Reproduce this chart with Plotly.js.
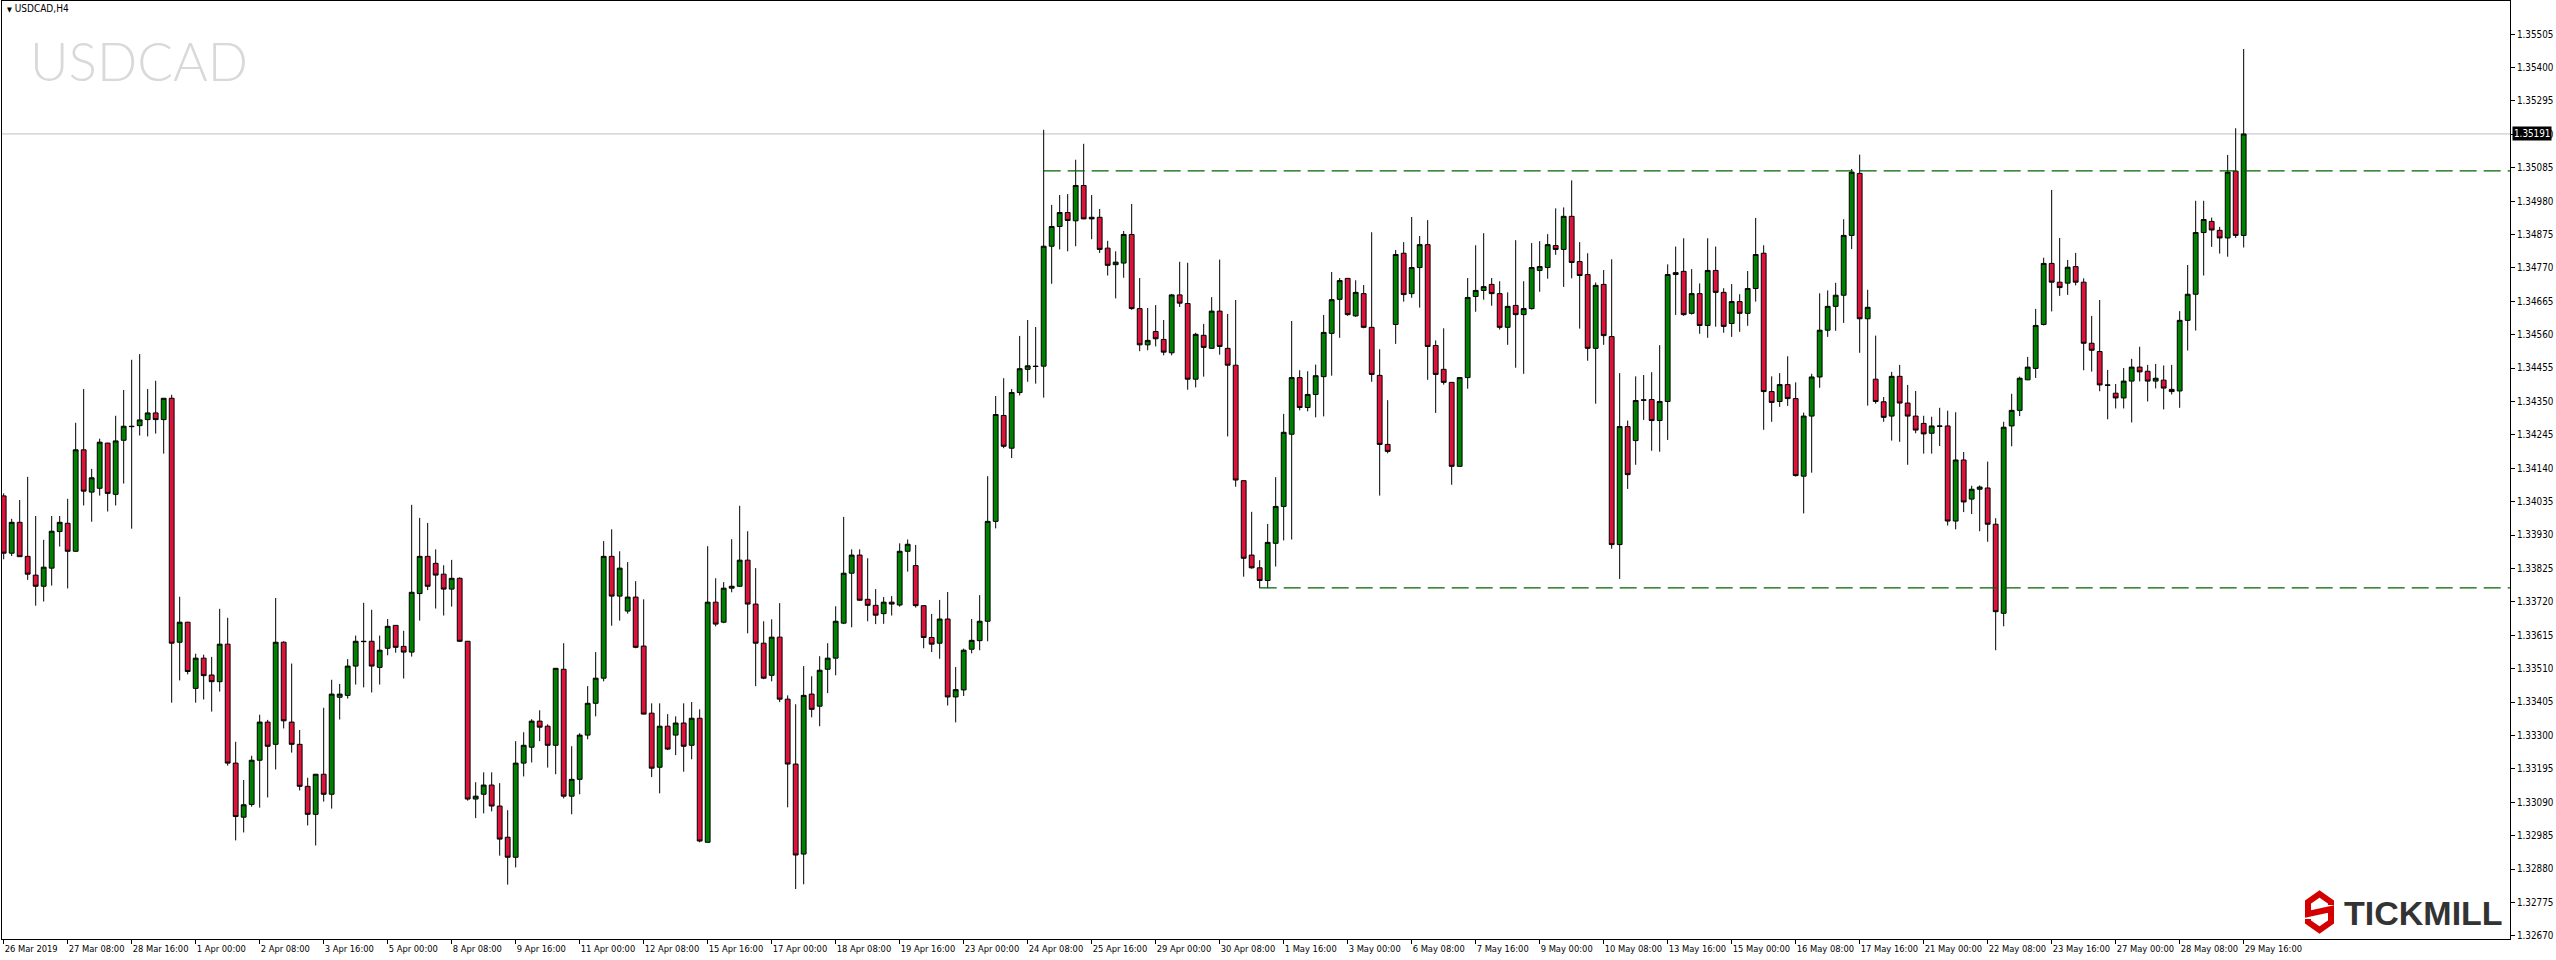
<!DOCTYPE html>
<html>
<head>
<meta charset="utf-8">
<script src="https://cdn.plot.ly/plotly-3.0.1.min.js"></script>
<style>
  html, body { margin: 0; padding: 0; background: #ffffff; }
  #chart { width: 2556px; height: 960px; }
</style>
</head>
<body>
<div id="chart"></div>
<script>
// ---- DATA (USDCAD H4, 26 Mar 2019 00:00 -> 29 May 2019 16:00) ----
const symbolName = "USDCAD";
const timeframeLabel = "USDCAD,H4";

const openPrices = [
1.34053,1.33873,1.33970,1.33863,1.33804,1.33769,1.33826,1.33941,1.33967,1.33879,
1.34198,1.34065,1.34077,1.34219,1.34058,1.34228,1.34272,1.34274,1.34293,1.34314,
1.34293,1.34360,1.33593,1.33656,1.33448,1.33543,1.33490,1.33469,1.33587,1.33213,
1.33043,1.33083,1.33222,1.33342,1.33272,1.33593,1.33342,1.33272,1.33140,1.33052,
1.33178,1.33115,1.33420,1.33426,1.33518,1.33596,1.33596,1.33514,1.33574,1.33646,
1.33580,1.33562,1.33746,1.33863,1.33841,1.33807,1.33760,1.33794,1.33596,1.33100,
1.33115,1.33144,1.33078,1.32980,1.32917,1.33213,1.33263,1.33345,1.33329,1.33269,
1.33508,1.33109,1.33162,1.33301,1.33401,1.33480,1.33863,1.33738,1.33691,1.33735,
1.33581,1.33370,1.33200,1.33329,1.33301,1.33339,1.33269,1.33354,1.32964,1.33719,
1.33656,1.33763,1.33769,1.33851,1.33713,1.33590,1.33489,1.33609,1.33414,1.33210,
1.32927,1.33430,1.33392,1.33508,1.33543,1.33653,1.33810,1.33867,1.33728,1.33709,
1.33683,1.33719,1.33710,1.33879,1.33834,1.33708,1.33608,1.33590,1.33666,1.33421,
1.33443,1.33571,1.33598,1.33659,1.33973,1.34306,1.34203,1.34378,1.34451,1.34461,
1.34461,1.34838,1.34900,1.34944,1.34918,1.35029,1.34929,1.34929,1.34832,1.34780,
1.34785,1.34875,1.34642,1.34528,1.34570,1.34545,1.34503,1.34685,1.34658,1.34420,
1.34558,1.34517,1.34634,1.34517,1.34464,1.34101,1.33867,1.33827,1.33787,1.33904,
1.34020,1.34247,1.34425,1.34331,1.34372,1.34428,1.34564,1.34671,1.34737,1.34619,
1.34689,1.34583,1.34432,1.34215,1.34592,1.34816,1.34689,1.34771,1.34843,1.34526,
1.34451,1.34410,1.34146,1.34425,1.34680,1.34699,1.34718,1.34689,1.34583,1.34652,
1.34623,1.34642,1.34762,1.34771,1.34840,1.34828,1.34932,1.34790,1.34749,1.34517,
1.34718,1.34554,1.33900,1.34271,1.34227,1.34355,1.34356,1.34290,1.34350,1.34749,
1.34759,1.34627,1.34689,1.34589,1.34762,1.34693,1.34595,1.34664,1.34627,1.34705,
1.34816,1.34381,1.34350,1.34403,1.34359,1.34115,1.34304,1.34427,1.34574,1.34649,
1.34684,1.34872,1.35067,1.34610,1.34420,1.34349,1.34304,1.34429,1.34345,1.34304,
1.34281,1.34250,1.34273,1.34273,1.33974,1.34166,1.34043,1.34074,1.34078,1.33964,
1.33684,1.34273,1.34322,1.34418,1.34454,1.34592,1.34784,1.34725,1.34722,1.34774,
1.34725,1.34533,1.34507,1.34402,1.34376,1.34361,1.34414,1.34458,1.34445,1.34414,
1.34417,1.34388,1.34383,1.34605,1.34687,1.34881,1.34916,1.34888,1.34864,1.35074,
1.34872];

const highPrices = [
1.34061,1.33981,1.34040,1.34113,1.33990,1.33915,1.33990,1.33990,1.34044,1.34283,
1.34389,1.34138,1.34233,1.34220,1.34305,1.34386,1.34481,1.34499,1.34389,1.34415,
1.34361,1.34371,1.33736,1.33657,1.33557,1.33554,1.33547,1.33698,1.33670,1.33280,
1.33160,1.33236,1.33365,1.33349,1.33732,1.33596,1.33526,1.33317,1.33167,1.33179,
1.33387,1.33475,1.33462,1.33540,1.33614,1.33717,1.33695,1.33614,1.33666,1.33647,
1.33629,1.34025,1.33984,1.33968,1.33885,1.33835,1.33852,1.33797,1.33597,1.33153,
1.33184,1.33184,1.33150,1.33065,1.33282,1.33310,1.33351,1.33379,1.33335,1.33512,
1.33590,1.33266,1.33307,1.33455,1.33562,1.33911,1.33948,1.33879,1.33845,1.33785,
1.33728,1.33401,1.33401,1.33367,1.33360,1.33401,1.33405,1.33382,1.33895,1.33794,
1.33782,1.33917,1.34022,1.33942,1.33826,1.33659,1.33665,1.33716,1.33426,1.33398,
1.33518,1.33486,1.33549,1.33590,1.33706,1.33987,1.33885,1.33885,1.33857,1.33760,
1.33735,1.33738,1.33904,1.33916,1.33899,1.33709,1.33682,1.33726,1.33751,1.33515,
1.33573,1.33666,1.33741,1.34115,1.34367,1.34423,1.34389,1.34556,1.34606,1.34584,
1.35204,1.34968,1.34999,1.35002,1.35110,1.35160,1.34999,1.34955,1.34855,1.34822,
1.34886,1.34971,1.34738,1.34644,1.34653,1.34606,1.34688,1.34789,1.34786,1.34566,
1.34594,1.34678,1.34796,1.34625,1.34669,1.34102,1.34003,1.33851,1.33965,1.34112,
1.34311,1.34603,1.34448,1.34445,1.34466,1.34622,1.34757,1.34738,1.34738,1.34731,
1.34716,1.34882,1.34514,1.34354,1.34826,1.34851,1.34930,1.34870,1.34920,1.34542,
1.34580,1.34411,1.34426,1.34738,1.34841,1.34879,1.34738,1.34728,1.34693,1.34857,
1.34728,1.34848,1.34854,1.34876,1.34957,1.34960,1.35045,1.34851,1.34816,1.34724,
1.34763,1.34797,1.34439,1.34290,1.34429,1.34433,1.34442,1.34527,1.34781,1.34837,
1.34863,1.34766,1.34721,1.34863,1.34837,1.34706,1.34719,1.34687,1.34760,1.34927,
1.34841,1.34429,1.34439,1.34492,1.34410,1.34315,1.34437,1.34690,1.34699,1.34723,
1.34923,1.35081,1.35126,1.34701,1.34557,1.34364,1.34443,1.34465,1.34402,1.34383,
1.34305,1.34302,1.34330,1.34321,1.34316,1.34191,1.34085,1.34086,1.34161,1.33983,
1.34286,1.34374,1.34428,1.34490,1.34641,1.34802,1.35015,1.34864,1.34795,1.34817,
1.34737,1.34619,1.34669,1.34449,1.34405,1.34455,1.34484,1.34522,1.34465,1.34468,
1.34463,1.34465,1.34634,1.34779,1.34981,1.34981,1.34928,1.34899,1.35125,1.35209,
1.35458];

const lowPrices = [
1.33854,1.33864,1.33862,1.33789,1.33708,1.33721,1.33771,1.33894,1.33762,1.33877,
1.34023,1.33972,1.34054,1.34004,1.34023,1.34092,1.33950,1.34243,1.34240,1.34249,
1.34186,1.33403,1.33473,1.33492,1.33403,1.33413,1.33375,1.33438,1.33205,1.32970,
1.32995,1.33076,1.33073,1.33105,1.33193,1.33322,1.33246,1.33127,1.33017,1.32954,
1.33092,1.33070,1.33350,1.33416,1.33460,1.33451,1.33435,1.33460,1.33552,1.33560,
1.33479,1.33548,1.33661,1.33757,1.33699,1.33677,1.33705,1.33594,1.33095,1.33040,
1.33055,1.33061,1.32922,1.32831,1.32885,1.33171,1.33215,1.33282,1.33199,1.33178,
1.33102,1.33052,1.33115,1.33288,1.33360,1.33470,1.33645,1.33661,1.33683,1.33574,
1.33366,1.33169,1.33118,1.33254,1.33238,1.33186,1.33225,1.32964,1.32963,1.33643,
1.33653,1.33750,1.33767,1.33621,1.33455,1.33477,1.33470,1.33405,1.33074,1.32817,
1.32832,1.33357,1.33329,1.33433,1.33489,1.33650,1.33640,1.33724,1.33659,1.33650,
1.33651,1.33677,1.33705,1.33815,1.33702,1.33574,1.33562,1.33541,1.33394,1.33341,
1.33424,1.33558,1.33568,1.33596,1.33951,1.34203,1.34172,1.34369,1.34412,1.34406,
1.34362,1.34720,1.34828,1.34822,1.34838,1.34923,1.34860,1.34817,1.34746,1.34674,
1.34739,1.34638,1.34508,1.34511,1.34523,1.34495,1.34495,1.34647,1.34387,1.34394,
1.34428,1.34516,1.34497,1.34240,1.34082,1.33799,1.33824,1.33763,1.33763,1.33831,
1.33913,1.33916,1.34322,1.34319,1.34300,1.34303,1.34431,1.34550,1.34619,1.34616,
1.34580,1.34412,1.34054,1.34187,1.34531,1.34664,1.34676,1.34645,1.34418,1.34314,
1.34403,1.34088,1.34145,1.34390,1.34632,1.34670,1.34651,1.34576,1.34528,1.34456,
1.34437,1.34639,1.34695,1.34736,1.34811,1.34710,1.34737,1.34579,1.34478,1.34343,
1.34528,1.33887,1.33792,1.34075,1.34151,1.34292,1.34195,1.34192,1.34229,1.34622,
1.34619,1.34623,1.34563,1.34550,1.34585,1.34566,1.34553,1.34569,1.34588,1.34664,
1.34261,1.34286,1.34333,1.34336,1.34114,1.33998,1.34126,1.34393,1.34553,1.34572,
1.34597,1.34829,1.34503,1.34337,1.34343,1.34286,1.34227,1.34223,1.34151,1.34250,
1.34186,1.34186,1.34210,1.33960,1.33948,1.34002,1.33996,1.33942,1.33909,1.33568,
1.33643,1.34209,1.34304,1.34417,1.34424,1.34589,1.34633,1.34682,1.34685,1.34715,
1.34448,1.34444,1.34382,1.34294,1.34328,1.34328,1.34284,1.34413,1.34350,1.34391,
1.34325,1.34372,1.34330,1.34510,1.34573,1.34746,1.34836,1.34815,1.34805,1.34864,
1.34834];

const closePrices = [
1.33873,1.33970,1.33862,1.33807,1.33769,1.33829,1.33942,1.33970,1.33879,1.34198,
1.34068,1.34110,1.34222,1.34061,1.34226,1.34272,1.34271,1.34292,1.34314,1.34293,
1.34360,1.33590,1.33656,1.33501,1.33543,1.33488,1.33469,1.33587,1.33213,1.33045,
1.33082,1.33222,1.33342,1.33266,1.33593,1.33346,1.33272,1.33140,1.33052,1.33178,
1.33115,1.33430,1.33430,1.33518,1.33596,1.33595,1.33518,1.33568,1.33643,1.33577,
1.33562,1.33750,1.33863,1.33769,1.33804,1.33760,1.33794,1.33596,1.33100,1.33109,
1.33144,1.33078,1.32974,1.32917,1.33213,1.33269,1.33345,1.33326,1.33269,1.33511,
1.33109,1.33162,1.33301,1.33401,1.33480,1.33863,1.33738,1.33826,1.33735,1.33577,
1.33367,1.33197,1.33329,1.33257,1.33339,1.33266,1.33354,1.32968,1.33719,1.33650,
1.33763,1.33769,1.33851,1.33713,1.33590,1.33480,1.33609,1.33414,1.33210,1.32924,
1.33426,1.33382,1.33505,1.33543,1.33659,1.33810,1.33867,1.33725,1.33709,1.33678,
1.33719,1.33713,1.33879,1.33901,1.33708,1.33608,1.33587,1.33666,1.33421,1.33444,
1.33568,1.33599,1.33659,1.33973,1.34309,1.34209,1.34378,1.34453,1.34462,1.34460,
1.34838,1.34900,1.34944,1.34919,1.35029,1.34924,1.34924,1.34828,1.34778,1.34788,
1.34875,1.34642,1.34528,1.34542,1.34547,1.34505,1.34685,1.34659,1.34420,1.34561,
1.34520,1.34634,1.34523,1.34464,1.34103,1.33857,1.33827,1.33787,1.33907,1.34020,
1.34253,1.34425,1.34331,1.34372,1.34431,1.34567,1.34670,1.34730,1.34623,1.34693,
1.34583,1.34435,1.34215,1.34193,1.34812,1.34686,1.34771,1.34843,1.34523,1.34435,
1.34410,1.34146,1.34425,1.34677,1.34699,1.34711,1.34689,1.34583,1.34649,1.34623,
1.34642,1.34771,1.34774,1.34843,1.34828,1.34932,1.34787,1.34746,1.34517,1.34715,
1.34557,1.33900,1.34271,1.34120,1.34353,1.34354,1.34290,1.34350,1.34749,1.34755,
1.34623,1.34689,1.34589,1.34762,1.34693,1.34586,1.34664,1.34627,1.34705,1.34812,
1.34381,1.34347,1.34403,1.34359,1.34117,1.34304,1.34427,1.34574,1.34649,1.34684,
1.34872,1.35071,1.34610,1.34646,1.34350,1.34300,1.34429,1.34345,1.34304,1.34260,
1.34248,1.34273,1.34272,1.33974,1.34166,1.34034,1.34074,1.34081,1.33964,1.33689,
1.34269,1.34322,1.34423,1.34458,1.34589,1.34784,1.34725,1.34708,1.34772,1.34725,
1.34533,1.34511,1.34402,1.34401,1.34361,1.34414,1.34458,1.34443,1.34414,1.34423,
1.34392,1.34381,1.34605,1.34687,1.34881,1.34922,1.34889,1.34864,1.35071,1.34872,
1.35191];

// x-axis labels, one every 8 candles (32 hours of trading)
const timeLabels = [
"26 Mar 2019","27 Mar 08:00","28 Mar 16:00","1 Apr 00:00","2 Apr 08:00","3 Apr 16:00",
"5 Apr 00:00","8 Apr 08:00","9 Apr 16:00","11 Apr 00:00","12 Apr 08:00","15 Apr 16:00",
"17 Apr 00:00","18 Apr 08:00","19 Apr 16:00","23 Apr 00:00","24 Apr 08:00","25 Apr 16:00",
"29 Apr 00:00","30 Apr 08:00","1 May 16:00","3 May 00:00","6 May 08:00","7 May 16:00",
"9 May 00:00","10 May 08:00","13 May 16:00","15 May 00:00","16 May 08:00","17 May 16:00",
"21 May 00:00","22 May 08:00","23 May 16:00","27 May 00:00","28 May 08:00","29 May 16:00"];
const labelStep = 8;

// price scale ticks
const priceTickStart = 1.32670;
const priceTickStep = 0.00105;

// horizontal levels (resistance / support), starting candle index
const resistanceLevel = 1.35075, resistanceStart = 130;
const supportLevel = 1.33764, supportStart = 157;

// ---- LAYOUT GEOMETRY ----
const W = 2556, H = 960;
const L = 2, R = 2510, T = 1, B = 939;
const px = x => (x - L) / (R - L);
const py = y => (B - y) / (B - T);
const yRange = [1.32660, 1.35609];
const xRange = [-0.21, -0.21 + (R - L) / 8];

const idx = openPrices.map((_, i) => i);
const lastClose = closePrices[closePrices.length - 1];

const narrowFamily = "DejaVu Sans Condensed, Liberation Sans Narrow, Arial Narrow, sans-serif";
const xFont = { family: narrowFamily, size: 9.3, color: "#000000" };
const yFont = { family: narrowFamily, size: 9.8, color: "#000000" };

const candles = {
  type: "candlestick",
  x: idx,
  open: openPrices, high: highPrices, low: lowPrices, close: closePrices,
  increasing: { line: { color: "#000000", width: 1 }, fillcolor: "#008000" },
  decreasing: { line: { color: "#000000", width: 1 }, fillcolor: "#dc143c" },
  whiskerwidth: 0,
  hoverinfo: "none",
  showlegend: false
};

// Tickmill logo mark (decorative), pixel path converted to paper units
const logoPts = [[2331,905],[2331,902],[2319.5,894],[2308,902],[2308,914],[2331,909],[2331,922],[2319.5,930],[2308,922],[2308,919]];
const logoPath = logoPts.map((p, k) => (k ? "L" : "M") + px(p[0]).toFixed(5) + "," + py(p[1]).toFixed(5)).join(" ");

const layout = {
  width: W, height: H,
  margin: { l: L, r: W - R, t: T, b: H - B, pad: 0, autoexpand: false },
  paper_bgcolor: "#ffffff",
  plot_bgcolor: "#ffffff",
  showlegend: false,
  boxgap: 0.4,
  boxgroupgap: 0,
  xaxis: {
    type: "linear",
    range: xRange,
    rangeslider: { visible: false },
    showgrid: false, zeroline: false,
    showline: true, linecolor: "#000000", linewidth: 1, mirror: true,
    ticks: "outside", ticklen: 4, tickcolor: "#000000", tickwidth: 1,
    tickmode: "array",
    tickvals: timeLabels.map((_, k) => k * labelStep),
    ticktext: timeLabels,
    tickangle: 0,
    automargin: false,
    ticklabelposition: "outside right",
    ticklabelstandoff: 1,
    tickfont: xFont,
    fixedrange: true
  },
  yaxis: {
    side: "right",
    range: yRange,
    showgrid: false, zeroline: false,
    showline: true, linecolor: "#000000", linewidth: 1, mirror: true,
    ticks: "outside", ticklen: 4, tickcolor: "#000000", tickwidth: 1,
    tickmode: "linear", tick0: priceTickStart, dtick: priceTickStep,
    tickformat: ".5f",
    tickangle: 0,
    automargin: false,
    ticklabelstandoff: 0,
    tickfont: yFont,
    fixedrange: true
  },
  shapes: [
    { type: "line", xref: "paper", x0: 0, x1: 1, yref: "y", y0: lastClose, y1: lastClose,
      line: { color: "#c0c0c0", width: 1 }, layer: "below" },
    { type: "line", xref: "x", x0: resistanceStart, x1: xRange[1], yref: "y", y0: resistanceLevel, y1: resistanceLevel,
      line: { color: "#006400", width: 1.2, dash: "17px,7px" } },
    { type: "line", xref: "x", x0: supportStart, x1: xRange[1], yref: "y", y0: supportLevel, y1: supportLevel,
      line: { color: "#006400", width: 1.2, dash: "17px,7px" } },
    { type: "path", xref: "paper", yref: "paper", path: logoPath,
      line: { color: "#d40000", width: 6 }, fillcolor: "rgba(0,0,0,0)" }
  ],
  annotations: [
    { xref: "paper", yref: "paper", x: px(5), y: py(9), xanchor: "left", yanchor: "middle",
      text: "<span style=\"font-size:7px\">▼</span> " + timeframeLabel, showarrow: false,
      font: { family: narrowFamily, size: 10, color: "#000000" } },
    { xref: "paper", yref: "paper", x: px(28), y: py(61), xanchor: "left", yanchor: "middle",
      text: symbolName, showarrow: false,
      font: { family: "Lato, Open Sans, sans-serif", size: 53, color: "#d9d9d9", weight: 300 } },
    { xref: "paper", yref: "y", x: 1, y: lastClose, xanchor: "left", yanchor: "middle", xshift: 2,
      text: lastClose.toFixed(5), showarrow: false, bgcolor: "#000000", borderpad: 1,
      font: { family: narrowFamily, size: 9.8, color: "#ffffff" } },
    { xref: "paper", yref: "paper", x: px(2342), y: py(912.5), xanchor: "left", yanchor: "middle",
      text: "<b>TICKMILL</b>", showarrow: false,
      font: { family: "Liberation Sans, Arial, sans-serif", size: 34, color: "#333333" } }
  ]
};

Plotly.newPlot("chart", [candles], layout, { staticPlot: true, displayModeBar: false });
</script>
</body>
</html>
